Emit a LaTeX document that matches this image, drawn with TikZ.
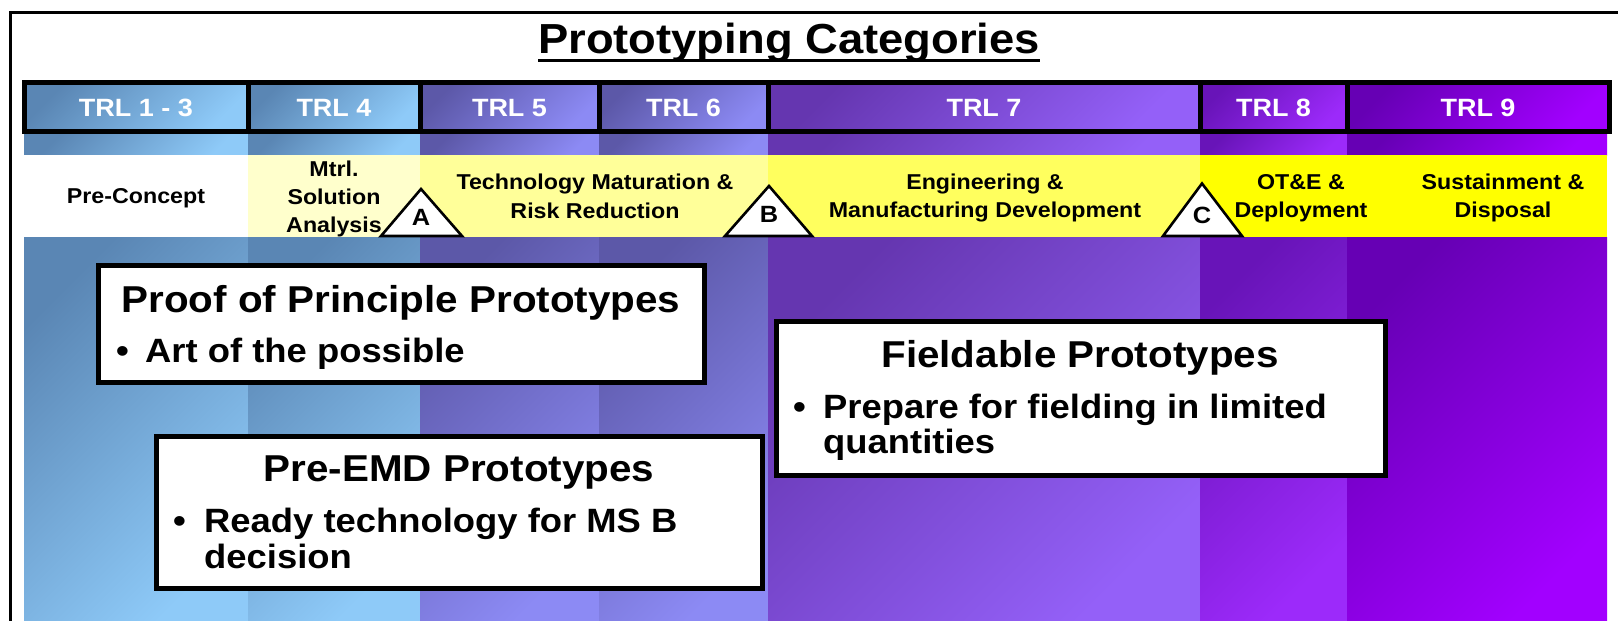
\documentclass[tikz,border=0pt]{standalone}
\usepackage{fontspec}
\setmainfont{Liberation Sans}[FakeStretch=1.08]
\definecolor{blueD}{HTML}{5A86B4}
\definecolor{blueL}{HTML}{8ECAF8}
\definecolor{slateD}{HTML}{5C58A8}
\definecolor{slateL}{HTML}{8C8AF4}
\definecolor{pviiD}{HTML}{6536B0}
\definecolor{pviiL}{HTML}{9460F8}
\definecolor{pviiiD}{HTML}{6814B8}
\definecolor{pviiiL}{HTML}{9C2AFA}
\definecolor{pixD}{HTML}{6600B4}
\definecolor{pixL}{HTML}{A200FF}
\definecolor{mtrlY}{HTML}{FFFFCC}
\definecolor{tmrrY}{HTML}{FFFF99}
\definecolor{emdY}{HTML}{FFFF5E}
\definecolor{otY}{HTML}{FFFF00}
\begin{document}
\begin{tikzpicture}[x=1pt,y=-1pt,
  grad/.style n args={2}{top color=#1, bottom color=#2, shading angle=45},
  hdr/.style={font=\fontsize{25}{30}\selectfont\bfseries, text=white, anchor=base, inner sep=0pt},
  phs/.style={font=\fontsize{21.5}{28}\selectfont\bfseries, text=black, anchor=base, inner sep=0pt},
  gatelbl/.style={font=\fontsize{23.5}{28}\selectfont\bfseries, text=black, anchor=base, inner sep=0pt},
  boxt/.style={font=\fontsize{37.4}{44}\selectfont\bfseries, anchor=base, inner sep=0pt},
  boxb/.style={font=\fontsize{33.7}{36}\selectfont\bfseries, anchor=base west, inner sep=0pt},
  card/.style={draw=black, line width=5pt, fill=white},
  gate/.style={draw=black, line width=2.6pt, fill=white, line join=miter},
]
\useasboundingbox (0,0) rectangle (1618,621);
\clip (0,0) rectangle (1618,621);
\fill[white] (0,0) rectangle (1618,621);

% outer frame (clipped at right and bottom)
\draw[line width=3pt] (10.5,700) -- (10.5,12) -- (1700,12);

% title
\node[font=\fontsize{42}{48}\selectfont\bfseries, anchor=base, inner sep=0pt] (title) at (789,53) {Prototyping Categories};
\draw[line width=3pt] ([yshift=-7pt]title.base west) -- ([yshift=-7pt]title.base east);

% columns: strip and body
\foreach \xa/\xb/\cd/\cl in {24/248/blueD/blueL, 248/420/blueD/blueL, 420/599/slateD/slateL, 599/768/slateD/slateL, 768/1200/pviiD/pviiL, 1200/1347/pviiiD/pviiiL, 1347/1607/pixD/pixL}{
  \shade[grad={\cd}{\cl}] (\xa,134) rectangle (\xb,155);
  \shade[grad={\cd}{\cl}] (\xa,237) rectangle (\xb,621);
}

% header cells
\foreach \xa/\xb/\cd/\cl in {24.5/248/blueD/blueL, 248/420/blueD/blueL, 420/599/slateD/slateL, 599/768/slateD/slateL, 768/1200/pviiD/pviiL, 1200/1347/pviiiD/pviiiL, 1347/1609.5/pixD/pixL}{
  \shade[grad={\cd}{\cl}] (\xa,82.5) rectangle (\xb,131.5);
}
\draw[line width=5pt] (24.5,82.5) rectangle (1609.5,131.5);
\foreach \xd in {248,420,599,768,1200,1347}{
  \draw[line width=5pt] (\xd,82.5) -- (\xd,131.5);
}
\node[hdr] (t13) at (136,116) {TRL 1 - 3};
\node[hdr] (t4) at (334,116) {TRL 4};
\node[hdr] (t5) at (509.5,116) {TRL 5};
\node[hdr] (t6) at (683.5,116) {TRL 6};
\node[hdr] (t7) at (984,116) {TRL 7};
\node[hdr] (t8) at (1273.5,116) {TRL 8};
\node[hdr] (t9) at (1478,116) {TRL 9};

% phase row
\fill[white] (24,155) rectangle (248,237);
\fill[mtrlY] (248,155) rectangle (420,237);
\fill[tmrrY] (420,155) rectangle (768,237);
\fill[emdY] (768,155) rectangle (1200,237);
\fill[otY] (1200,155) rectangle (1607,237);

\node[phs] (pc) at (136,203) {Pre-Concept};
\node[phs] (msa1) at (334,176) {Mtrl.};
\node[phs] (msa2) at (334,204) {Solution};
\node[phs] (msa3) at (334,232) {Analysis};
\node[phs] (tm1) at (595,189.5) {Technology Maturation \&};
\node[phs] (tm2) at (595,218) {Risk Reduction};
\node[phs] (emd1) at (985,189) {Engineering \&};
\node[phs] (emd2) at (985,217) {Manufacturing Development};
\node[phs] (ot1) at (1301,189) {OT\&E \&};
\node[phs] (ot2) at (1301,217) {Deployment};
\node[phs] (sd1) at (1503,189) {Sustainment \&};
\node[phs] (sd2) at (1503,217) {Disposal};

% milestone triangles
\draw[gate] (381,236) -- (421,189) -- (462,236) -- cycle;
\draw[gate] (725,236) -- (769,186) -- (812,236) -- cycle;
\draw[gate] (1163,236) -- (1202,183.5) -- (1242,236) -- cycle;
\node[gatelbl] (msA) at (421,225) {A};
\node[gatelbl] (msB) at (769,222.5) {B};
\node[gatelbl] (msC) at (1202,223) {C};

% cards
\draw[card] (98.5,265.5) rectangle (704.5,382.5);
\node[boxt] (pop) at (401,312) {Proof of Principle Prototypes};
\node[boxb] (popb) at (116,362) {\textbullet};
\node[boxb] (popt) at (145,362) {Art of the possible};

\draw[card] (156.5,436.5) rectangle (762.5,588.5);
\node[boxt] (pre) at (459,481) {Pre-EMD Prototypes};
\node[boxb] (preb) at (173,532) {\textbullet};
\node[boxb] (pret1) at (204,532) {Ready technology for MS B};
\node[boxb] (pret2) at (204,568) {decision};

\draw[card] (776.5,321.5) rectangle (1385.5,475.5);
\node[boxt] (fld) at (1080,367) {Fieldable Prototypes};
\node[boxb] (fldb) at (793,418) {\textbullet};
\node[boxb] (fldt1) at (823,418) {Prepare for fielding in limited};
\node[boxb] (fldt2) at (823,453) {quantities};
\end{tikzpicture}
\end{document}
